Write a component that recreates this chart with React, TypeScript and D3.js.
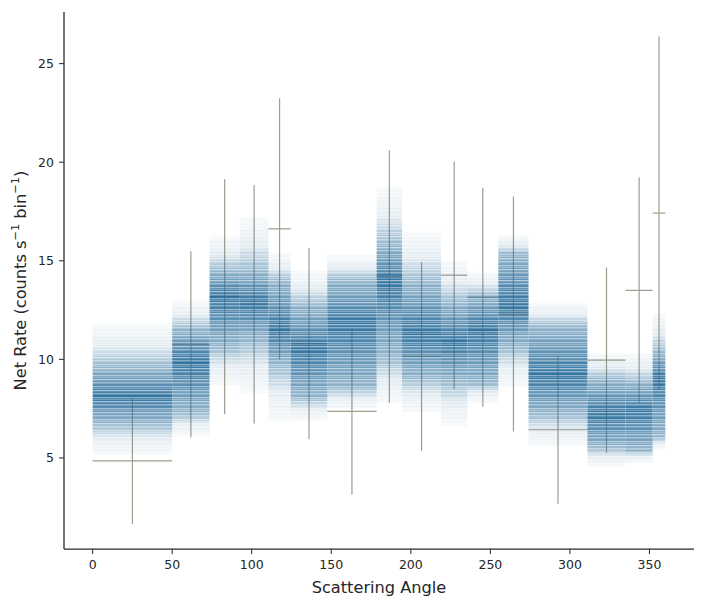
import { scaleLinear } from "d3";

// bin edges in degrees
const binEdges = [0, 50, 73.5, 92.5, 110.5, 124.5, 147.5, 178.5, 194.5, 219, 235.5, 255, 274, 311, 335, 352, 360];

// observed net rate per bin and its 1-sigma error
const observed = [4.85, 10.76, 13.18, 12.8, 16.62, 10.8, 7.36, 14.2, 10.15, 14.27, 13.15, 12.3, 6.43, 9.96, 13.5, 17.42];
const errors = [3.2, 4.72, 5.96, 6.05, 6.62, 4.85, 4.22, 6.41, 4.78, 5.77, 5.55, 5.96, 3.76, 4.7, 5.73, 8.96];

// model posterior spread per bin (outer extent, dense region, median)
const bandLo = [5.16, 6.1, 8.7, 8.3, 6.85, 6.9, 7.5, 7.78, 7.3, 6.6, 7.8, 8.6, 5.58, 4.57, 4.75, 5.4];
const bandQ10 = [6.78, 7.3, 10.65, 11.0, 9.8, 8.1, 8.6, 10.14, 9.13, 8.96, 8.8, 10.65, 7.27, 5.58, 5.4, 6.08];
const bandMed = [8.1, 9.9, 13.2, 12.9, 11.5, 10.5, 11.8, 14.0, 11.3, 10.9, 11.5, 12.8, 9.2, 7.2, 7.4, 9.0];
const bandQ90 = [9.57, 11.5, 14.45, 14.4, 13.9, 12.7, 14.0, 15.7, 13.86, 12.84, 13.2, 15.3, 11.66, 8.96, 8.8, 10.3];
const bandHi = [11.86, 13.0, 16.25, 17.2, 15.4, 14.5, 15.3, 18.75, 16.47, 15.0, 14.45, 16.3, 12.85, 10.3, 10.3, 12.34];

const xTicks = [0, 50, 100, 150, 200, 250, 300, 350];
const yTicks = [5, 10, 15, 20, 25];

// stripe texture for the sample lines look
const stripes = [1, 0.55, 0.9, 0.7, 1, 0.45, 0.85, 0.95, 0.6, 0.8, 1];

const W = 706;
const H = 607;
const margin = { top: 12, right: 12, bottom: 58, left: 64 };

const BLUE = "#276c9b";
const ERR = "#9d9d8c";
const INK = "#262626";
const FONT = "DejaVu Sans, sans-serif";

export default function App() {
  const x = scaleLinear().domain([-18, 378]).range([margin.left, W - margin.right]);
  const y = scaleLinear().domain([0.38, 27.62]).range([H - margin.bottom, margin.top]);
  const x0 = margin.left;
  const yBottom = H - margin.bottom;

  const bins = observed.map((v, i) => ({
    a: binEdges[i],
    b: binEdges[i + 1],
    mid: (binEdges[i] + binEdges[i + 1]) / 2,
    v,
    e: errors[i],
    lo: bandLo[i],
    q10: bandQ10[i],
    med: bandMed[i],
    q90: bandQ90[i],
    hi: bandHi[i],
  }));

  const sup = (s: string) => (
    <tspan baselineShift="super" fontSize="70%">
      {s}
    </tspan>
  );

  return (
    <svg
      width={W}
      height={H}
      style={{ position: "absolute", left: 0, top: 0, background: "#fff" }}
      fontFamily={FONT}
    >
      <defs>
        <pattern id="stripes" width={8} height={stripes.length} patternUnits="userSpaceOnUse">
          {stripes.map((o, i) => (
            <rect key={i} x={0} y={i} width={8} height={1} fill="#fff" fillOpacity={o} />
          ))}
        </pattern>
        <mask id="stripeMask" maskUnits="userSpaceOnUse" x={0} y={0} width={W} height={H}>
          <rect x={0} y={0} width={W} height={H} fill="url(#stripes)" />
        </mask>
        {bins.map((d, i) => {
          const top = y(d.hi);
          const span = y(d.lo) - top;
          const off = (val: number) => ((y(val) - top) / span) * 100 + "%";
          return (
            <linearGradient
              key={i}
              id={`band${i}`}
              x1="0"
              x2="0"
              y1={top}
              y2={y(d.lo)}
              gradientUnits="userSpaceOnUse"
            >
              <stop offset="0%" stopColor={BLUE} stopOpacity={0.04} />
              <stop offset={off((d.hi + d.q90) / 2)} stopColor={BLUE} stopOpacity={0.13} />
              <stop offset={off(d.q90)} stopColor={BLUE} stopOpacity={0.52} />
              <stop offset={off((d.q90 + d.med) / 2)} stopColor={BLUE} stopOpacity={0.74} />
              <stop offset={off(d.med)} stopColor={BLUE} stopOpacity={0.95} />
              <stop offset={off((d.q10 + d.med) / 2)} stopColor={BLUE} stopOpacity={0.74} />
              <stop offset={off(d.q10)} stopColor={BLUE} stopOpacity={0.52} />
              <stop offset={off((d.lo + d.q10) / 2)} stopColor={BLUE} stopOpacity={0.13} />
              <stop offset="100%" stopColor={BLUE} stopOpacity={0.04} />
            </linearGradient>
          );
        })}
      </defs>

      {/* observed data with error bars */}
      {bins.map((d, i) => (
        <g key={i} stroke={ERR} strokeWidth={1.2}>
          <line x1={x(d.a)} x2={x(d.b)} y1={y(d.v)} y2={y(d.v)} />
          <line x1={x(d.mid)} x2={x(d.mid)} y1={y(d.v - d.e)} y2={y(d.v + d.e)} />
        </g>
      ))}

      {/* model bands drawn over the data */}
      <g mask="url(#stripeMask)">
        {bins.map((d, i) => (
          <rect
            key={i}
            x={x(d.a)}
            width={x(d.b) - x(d.a)}
            y={y(d.hi)}
            height={y(d.lo) - y(d.hi)}
            fill={`url(#band${i})`}
          />
        ))}
      </g>

      {/* axes */}
      <line x1={x0} x2={x0} y1={margin.top} y2={yBottom} stroke={INK} strokeWidth={1.25} />
      <line x1={x0} x2={W - margin.right} y1={yBottom} y2={yBottom} stroke={INK} strokeWidth={1.25} />

      {xTicks.map((t) => (
        <g key={t} transform={`translate(${x(t)},${yBottom})`}>
          <line y2={5} stroke={INK} strokeWidth={1} />
          <text y={20} textAnchor="middle" fontSize={12.5} fill={INK}>
            {t}
          </text>
        </g>
      ))}
      {yTicks.map((t) => (
        <g key={t} transform={`translate(${x0},${y(t)})`}>
          <line x2={-5} stroke={INK} strokeWidth={1} />
          <text x={-10} dy="0.35em" textAnchor="end" fontSize={12.5} fill={INK}>
            {t}
          </text>
        </g>
      ))}

      <text x={(x0 + W - margin.right) / 2} y={593} textAnchor="middle" fontSize={16.2} fill={INK}>
        Scattering Angle
      </text>
      <text
        transform={`translate(26,${(margin.top + yBottom) / 2}) rotate(-90)`}
        textAnchor="middle"
        fontSize={16.2}
        fill={INK}
      >
        Net Rate (counts s{sup("−1")} bin{sup("−1")})
      </text>
    </svg>
  );
}
